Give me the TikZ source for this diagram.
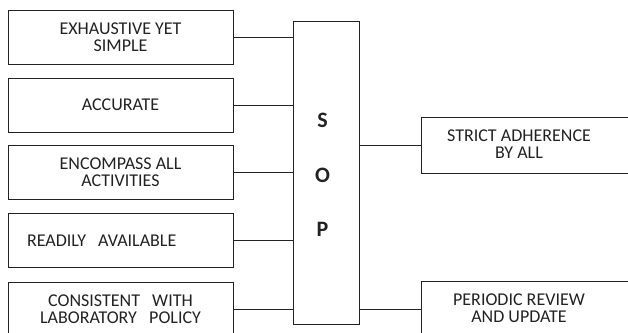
\documentclass[tikz,border=0pt]{standalone}
\usepackage{fontspec}
\setmainfont{Carlito}
\definecolor{ink}{HTML}{222222}
\begin{document}
\begin{tikzpicture}[x=1pt,y=-1pt,
  every node/.style={text=ink},
  box/.style={draw=ink,line width=1pt,rectangle,inner sep=0pt,
    font=\fontsize{18}{17}\selectfont,align=center},
  leftbox/.style={box,minimum width=225pt,minimum height=54pt},
  rightbox/.style={box,minimum width=219pt,minimum height=56pt},
  label/.style={font=\fontsize{18}{17}\selectfont,align=center,inner sep=0pt},
  letter/.style={font=\fontsize{22}{22}\bfseries\selectfont,inner sep=0pt},
  link/.style={draw=ink,line width=1pt}]
\useasboundingbox (0,0) rectangle (628,332);

% central SOP column
\node[box,minimum width=66pt,minimum height=303pt] (sop) at (326,172.5) {};
\node[letter] (s) at (322.5,120) {S};
\node[letter] (o) at (322.5,175) {O};
\node[letter] (p) at (322.5,229) {P};

% qualities on the left
\node[leftbox] (q1) at (120.5,37) {EXHAUSTIVE YET\\SIMPLE};
\node[leftbox] (q2) at (120.5,105) {ACCURATE};
\node[leftbox] (q3) at (120.5,172.5) {ENCOMPASS ALL\\ACTIVITIES};
\node[leftbox,text width=187pt,inner xsep=19pt,align=left] (q4) at (120.5,240.5) {READILY\ \ AVAILABLE};
\node[leftbox] (q5) at (120.5,309) {CONSISTENT\ \ \ WITH\\LABORATORY\ \ \ POLICY};

% requirements on the right
\node[rightbox] (r1) at (530.5,145) {};
\node[label] (r1t) at (519,144) {STRICT ADHERENCE\\BY ALL};
\node[rightbox] (r2) at (530.5,309) {};
\node[label] (r2t) at (519,308) {PERIODIC REVIEW\\AND UPDATE};

% connectors
\foreach \q in {q1,q2,q3,q4,q5}
  \draw[link] (\q.east) -- (\q.east -| sop.west);
\foreach \r in {r1,r2}
  \draw[link] (\r.west -| sop.east) -- (\r.west);
\end{tikzpicture}
\end{document}
